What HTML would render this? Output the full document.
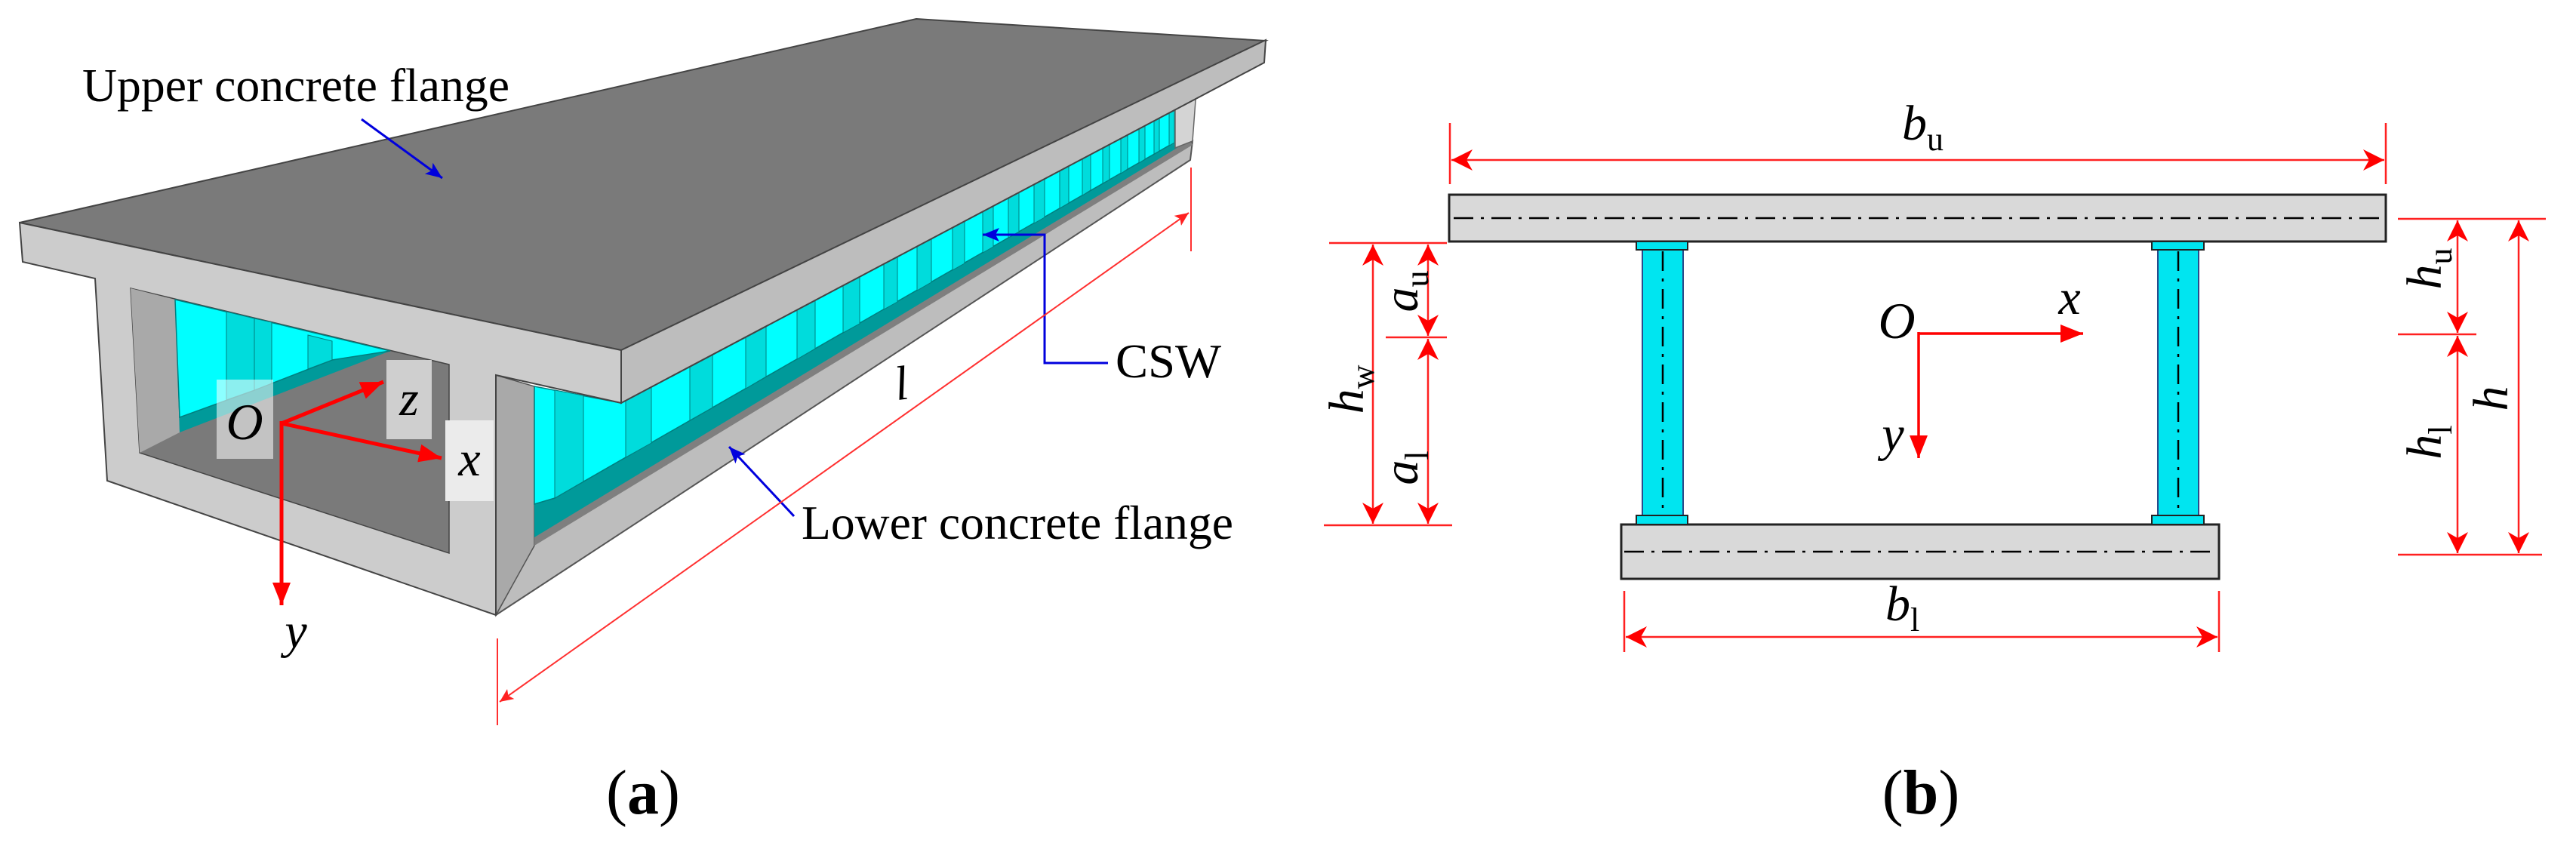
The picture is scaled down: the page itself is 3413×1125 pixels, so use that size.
<!DOCTYPE html>
<html><head><meta charset="utf-8"><style>
html,body{margin:0;padding:0;background:#fff;}
svg{display:block;}
</style></head><body>
<svg width="3413" height="1125" viewBox="0 0 3413 1125" xmlns="http://www.w3.org/2000/svg" font-family="Liberation Serif, DejaVu Serif, serif">
<style>
text, tspan { font-family: "Liberation Serif", "DejaVu Serif", "Times New Roman", serif; }
</style>
<defs>
<marker id="ra" markerUnits="userSpaceOnUse" markerWidth="40" markerHeight="40" refX="28" refY="14" orient="auto-start-reverse" viewBox="0 0 40 28">
<path d="M0,0 L28,14 L0,28 L8,14 Z" fill="#ff0000"/></marker>
<marker id="rs" markerUnits="userSpaceOnUse" markerWidth="24" markerHeight="20" refX="18" refY="8" orient="auto-start-reverse" viewBox="0 0 24 16">
<path d="M0,0 L18,8 L0,16 L4,8 Z" fill="#ff2020"/></marker>
<marker id="rb" markerUnits="userSpaceOnUse" markerWidth="40" markerHeight="30" refX="30" refY="12" orient="auto" viewBox="0 0 40 24">
<path d="M0,0 L30,12 L0,24 Z" fill="#ff0000"/></marker>
<marker id="bl" markerUnits="userSpaceOnUse" markerWidth="30" markerHeight="24" refX="22" refY="9" orient="auto" viewBox="0 0 30 18">
<path d="M0,0 L22,9 L0,18 L5,9 Z" fill="#0000dd"/></marker>
</defs>

<!-- ============ PANEL (a) ============ -->
<polygon points="26,295 1214,25 1677,54 823,464" fill="#7a7a7a" stroke="#444" stroke-width="2"/>
<polygon points="708,721 1580,187 1577,212 660,813 657,815" fill="#bdbdbd" stroke="#555" stroke-width="2"/>
<polygon points="657,497 708,512 708,723 657,815" fill="#a9a9a9" stroke="#555" stroke-width="1.5"/>
<polygon points="708,640 1566,170 1578,188 708,714" fill="#009a9a"/>
<polygon points="708,712 1576,186 1580,192 708,723" fill="#7f7f7f"/>
<polygon points="708,512 823,534 1586,129 1566,140 1566,183 735,660 708,668" fill="#00ffff" stroke="#007f7f" stroke-width="1.5"/>
<g fill="#00dcdc" stroke="#008080" stroke-width="1">
<polygon points="735,517 773,524 773,638 735,660"/>
<polygon points="829,531 863,513 863,587 829,606"/>
<polygon points="914,486 944,470 944,540 914,557"/>
<polygon points="988,446 1015,432 1015,499 988,515"/>
<polygon points="1056,410 1080,398 1080,462 1056,476"/>
<polygon points="1117,378 1139,366 1139,429 1117,441"/>
<polygon points="1171,349 1189,340 1189,400 1171,410"/>
<polygon points="1215,326 1234,316 1234,374 1215,385"/>
<polygon points="1262,301 1278,292 1278,349 1262,358"/>
<polygon points="1302,280 1316,272 1316,327 1302,335"/>
<polygon points="1336,262 1350,255 1350,307 1336,315"/>
<polygon points="1370,244 1384,237 1384,288 1370,296"/>
<polygon points="1404,226 1416,220 1416,269 1404,276"/>
<polygon points="1434,210 1445,204 1445,252 1434,259"/>
<polygon points="1461,196 1470,191 1470,238 1461,243"/>
<polygon points="1485,183 1494,178 1494,224 1485,230"/>
<polygon points="1509,170 1517,166 1517,211 1509,216"/>
<polygon points="1529,160 1536,156 1536,200 1529,204"/>
<polygon points="1549,149 1556,145 1556,189 1549,193"/>
</g>
<polygon points="1557,131 1585,120 1580,187 1557,196" fill="#d4d4d4" stroke="#666" stroke-width="1.5"/>
<polygon points="823,464 1677,53 1675,83 823,534" fill="#bdbdbd" stroke="#444" stroke-width="2"/>

<polygon points="26,295 823,464 823,534 657,497 657,815 142,637 126,369 30,347" fill="#cccccc" stroke="#444" stroke-width="2"/>
<polygon points="173,382 595,483 595,733 185,600" fill="#7a7a7a" stroke="#444" stroke-width="1.5"/>
<polygon points="173,382 232,397 238,573 185,600" fill="#a9a9a9"/>
<polygon points="232,397 517,465 238,573" fill="#009a9a"/>
<polygon points="232,397 517,465 440,477 337,517 238,553" fill="#00ffff" stroke="#007f7f" stroke-width="1.5"/>
<g fill="#00dcdc" stroke="#008080" stroke-width="1">
<polygon points="300,413 337,422 337,517 300,530"/>
<polygon points="337,422 360,427 360,508 337,517"/>
<polygon points="408,444 440,452 440,477 408,489"/>
</g>
<rect x="287" y="503" width="75" height="105" fill="#ffffff" fill-opacity="0.55"/>
<rect x="512" y="477" width="60" height="105" fill="#cfcfcf"/>
<rect x="590" y="557" width="64" height="107" fill="#ebebeb"/>
<g stroke="#ff0000" stroke-width="5" fill="none">
<line x1="373" y1="561" x2="508" y2="506" marker-end="url(#rb)"/>
<line x1="373" y1="561" x2="585" y2="607" marker-end="url(#rb)"/>
<line x1="373" y1="558" x2="373" y2="802" marker-end="url(#rb)"/>
</g>
<text x="324" y="582" font-size="68" font-style="italic" text-anchor="middle">O</text>
<text x="542" y="550" font-size="66" font-style="italic" text-anchor="middle">z</text>
<text x="622" y="630" font-size="66" font-style="italic" text-anchor="middle">x</text>
<text x="392" y="858" font-size="66" font-style="italic" text-anchor="middle">y</text>

<text x="109" y="134" font-size="62" textLength="566" lengthAdjust="spacingAndGlyphs">Upper concrete flange</text>
<line x1="479" y1="158" x2="586" y2="236" stroke="#0000dd" stroke-width="3" marker-end="url(#bl)"/>
<polyline points="1468,481 1384,481 1384,311 1302,311" fill="none" stroke="#0000dd" stroke-width="3" marker-end="url(#bl)"/>
<text x="1478" y="500" font-size="64" textLength="140" lengthAdjust="spacingAndGlyphs">CSW</text>
<line x1="1052" y1="684" x2="966" y2="592" stroke="#0000dd" stroke-width="3" marker-end="url(#bl)"/>
<text x="1062" y="714" font-size="64" textLength="572" lengthAdjust="spacingAndGlyphs">Lower concrete flange</text>

<g stroke="#ff3030" stroke-width="2" fill="none">
<line x1="659" y1="846" x2="659" y2="961"/>
<line x1="1578" y1="222" x2="1578" y2="333"/>
<line x1="662" y1="930" x2="1575" y2="282" marker-start="url(#rs)" marker-end="url(#rs)"/>
</g>
<text x="1186" y="530" font-size="64" font-style="italic" transform="rotate(-8 1190 515)">l</text>

<text x="852" y="1078" font-size="84" text-anchor="middle">(<tspan font-weight="bold">a</tspan>)</text>

<!-- ============ PANEL (b) ============ -->
<rect x="1920" y="258" width="1241" height="62" fill="#d9d9d9" stroke="#222" stroke-width="3"/>
<rect x="2148" y="695" width="792" height="72" fill="#d9d9d9" stroke="#222" stroke-width="3"/>
<g stroke="#000" stroke-width="2.5" stroke-dasharray="26 10 4 10">
<line x1="1926" y1="289" x2="3158" y2="289"/>
<line x1="2152" y1="731" x2="2936" y2="731"/>
</g>
<g fill="#00e5f0" stroke="#222" stroke-width="2">
<rect x="2176" y="331" width="54" height="352" stroke="#2a4a8a"/>
<rect x="2168" y="320" width="68" height="11"/>
<rect x="2168" y="683" width="68" height="12"/>
<rect x="2859" y="331" width="54" height="352" stroke="#2a4a8a"/>
<rect x="2851" y="320" width="69" height="11"/>
<rect x="2851" y="683" width="69" height="12"/>
</g>
<g stroke="#000" stroke-width="2.5" stroke-dasharray="26 10 4 10">
<line x1="2203" y1="333" x2="2203" y2="680"/>
<line x1="2886" y1="333" x2="2886" y2="680"/>
</g>

<g stroke="#ff2020" stroke-width="2.5" fill="none">
<line x1="1921" y1="163" x2="1921" y2="244"/>
<line x1="3161" y1="163" x2="3161" y2="244"/>
<line x1="1923" y1="212" x2="3159" y2="212" marker-start="url(#ra)" marker-end="url(#ra)"/>
<line x1="2152" y1="783" x2="2152" y2="864"/>
<line x1="2940" y1="783" x2="2940" y2="864"/>
<line x1="2154" y1="844" x2="2938" y2="844" marker-start="url(#ra)" marker-end="url(#ra)"/>
<line x1="1761" y1="322" x2="1917" y2="322"/>
<line x1="1836" y1="447" x2="1917" y2="447"/>
<line x1="1754" y1="696" x2="1924" y2="696"/>
<line x1="1819" y1="324" x2="1819" y2="694" marker-start="url(#ra)" marker-end="url(#ra)"/>
<line x1="1892" y1="324" x2="1892" y2="445" marker-start="url(#ra)" marker-end="url(#ra)"/>
<line x1="1892" y1="449" x2="1892" y2="694" marker-start="url(#ra)" marker-end="url(#ra)"/>
<line x1="3177" y1="290" x2="3373" y2="290"/>
<line x1="3177" y1="443" x2="3281" y2="443"/>
<line x1="3177" y1="735" x2="3368" y2="735"/>
<line x1="3256" y1="292" x2="3256" y2="441" marker-start="url(#ra)" marker-end="url(#ra)"/>
<line x1="3256" y1="445" x2="3256" y2="733" marker-start="url(#ra)" marker-end="url(#ra)"/>
<line x1="3337" y1="292" x2="3337" y2="733" marker-start="url(#ra)" marker-end="url(#ra)"/>
</g>

<g stroke="#ff0000" stroke-width="3.5" fill="none">
<line x1="2542" y1="442" x2="2760" y2="442" marker-end="url(#rb)"/>
<line x1="2542" y1="440" x2="2542" y2="607" marker-end="url(#rb)"/>
</g>
<text x="2513" y="448" font-size="68" font-style="italic" text-anchor="middle">O</text>
<text x="2742" y="416" font-size="66" font-style="italic" text-anchor="middle">x</text>
<text x="2508" y="597" font-size="66" font-style="italic" text-anchor="middle">y</text>

<text x="2520" y="185" font-size="66" font-style="italic">b<tspan font-style="normal" font-size="44" dy="14">u</tspan></text>
<text x="2498" y="822" font-size="66" font-style="italic">b<tspan font-style="normal" font-size="44" dy="14">l</tspan></text>
<text transform="translate(1806,516) rotate(-90)" font-size="66" font-style="italic" text-anchor="middle">h<tspan font-style="normal" font-size="44" dy="14">w</tspan></text>
<text transform="translate(1878,386) rotate(-90)" font-size="66" font-style="italic" text-anchor="middle">a<tspan font-style="normal" font-size="44" dy="14">u</tspan></text>
<text transform="translate(1878,620) rotate(-90)" font-size="66" font-style="italic" text-anchor="middle">a<tspan font-style="normal" font-size="44" dy="14">l</tspan></text>
<text transform="translate(3234,356) rotate(-90)" font-size="66" font-style="italic" text-anchor="middle">h<tspan font-style="normal" font-size="44" dy="14">u</tspan></text>
<text transform="translate(3234,586) rotate(-90)" font-size="66" font-style="italic" text-anchor="middle">h<tspan font-style="normal" font-size="44" dy="14">l</tspan></text>
<text transform="translate(3322,528) rotate(-90)" font-size="66" font-style="italic" text-anchor="middle">h</text>

<text x="2545" y="1078" font-size="84" text-anchor="middle">(<tspan font-weight="bold">b</tspan>)</text>
</svg>
</body></html>
